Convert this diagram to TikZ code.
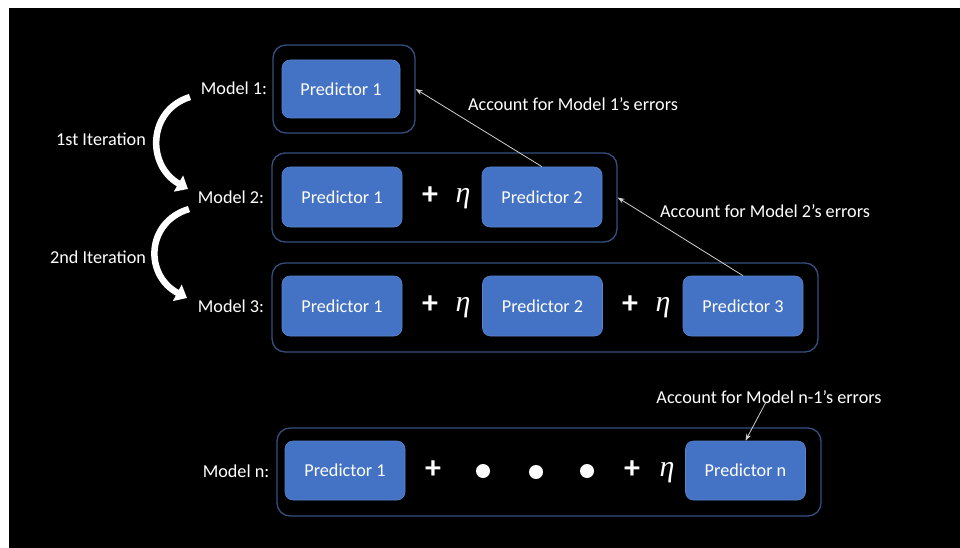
\documentclass[tikz,border=0pt]{standalone}
\usepackage{fontspec}
\setmainfont{Carlito}
\newfontfamily\etaserif{Liberation Serif}
\usetikzlibrary{arrows.meta}
\definecolor{predblue}{HTML}{4472C4}
\definecolor{prededge}{HTML}{5A84CC}
\definecolor{frameblue}{HTML}{33507F}
\definecolor{linkgray}{HTML}{D0D0D0}
\newcommand{\lblfont}{\fontsize{18.2}{21}\selectfont}
\newcommand{\opfont}{\fontsize{32}{34}\selectfont\bfseries}
\newcommand{\etafont}{\etaserif\itshape\fontsize{30}{32}\selectfont}
\tikzset{
  predbox/.style={fill=predblue, draw=prededge, line width=0.6pt, rounded corners=8pt,
    minimum width=120pt, minimum height=60pt, inner sep=0pt, text=white, font=\lblfont},
  modelframe/.style={draw=frameblue, line width=1.3pt, rounded corners=13pt,
    minimum height=88pt, inner sep=0pt},
  modellbl/.style={text=white, font=\lblfont, inner sep=0pt},
  optxt/.style={text=white, font=\opfont, inner sep=0pt},
  etatxt/.style={text=white, font=\etafont, inner sep=0pt},
  notetxt/.style={text=white, font=\lblfont, inner sep=0pt},
  errlink/.style={draw=linkgray, line width=0.8pt, -{Stealth[length=7pt,width=5pt]}},
  iterarrow/.style={draw=white, line width=6.5pt, -{Triangle[length=11pt,width=18pt]}},
  dotmark/.style={circle, fill=white, minimum size=14pt, inner sep=0pt},
}
\begin{document}
\begin{tikzpicture}[x=1pt,y=-1pt]
  % page and dark panel
  \fill[white] (0,0) rectangle (960,548);
  \fill[black] (9,8) rectangle (960,548);
  \useasboundingbox (0,0) rectangle (960,548);

  % outer frames of the four models
  \node[modelframe, minimum width=142pt] (m1) at (344,89) {};
  \node[modelframe, minimum width=345pt, minimum height=89pt] (m2) at (444.5,197.5) {};
  \node[modelframe, minimum width=546pt, minimum height=89pt] (m3) at (545,307.5) {};
  \node[modelframe, minimum width=544pt] (mn) at (549,472) {};

  % model labels
  \node[modellbl] (l1) at (234,88) {Model 1:};
  \node[modellbl] (l2) at (231,197) {Model 2:};
  \node[modellbl] (l3) at (231,306) {Model 3:};
  \node[modellbl] (ln) at (236,471) {Model n:};

  % model 1
  \node[predbox, minimum width=118pt, minimum height=58pt] (p11) at (341,89) {Predictor 1};

  % model 2
  \node[predbox] (p21) at (342,197) {Predictor 1};
  \node[optxt] (o21) at (430,196) {+};
  \node[etatxt] (e21) at (463,199) {η};
  \node[predbox] (p22) at (542,197) {Predictor 2};

  % model 3
  \node[predbox] (p31) at (342,306) {Predictor 1};
  \node[optxt] (o31) at (430,305) {+};
  \node[etatxt] (e31) at (463,308) {η};
  \node[predbox] (p32) at (542.5,306) {Predictor 2};
  \node[optxt] (o32) at (630,305) {+};
  \node[etatxt] (e32) at (663,308) {η};
  \node[predbox] (p33) at (743,306) {Predictor 3};

  % model n
  \node[predbox, minimum height=59pt] (pn1) at (345,470.5) {Predictor 1};
  \node[optxt] (on1) at (433,470) {+};
  \node[dotmark] (d1) at (483,471) {};
  \node[dotmark] (d2) at (536,472) {};
  \node[dotmark] (d3) at (587,471) {};
  \node[optxt] (on2) at (632,470) {+};
  \node[etatxt] (en) at (667,473) {η};
  \node[predbox, minimum height=59pt] (pnn) at (745.5,470.5) {Predictor n};

  % error notes
  \node[notetxt] (n1) at (573,104) {Account for Model 1’s errors};
  \node[notetxt] (n2) at (765,211) {Account for Model 2’s errors};
  \node[notetxt] (nn) at (769,397) {Account for Model n-1’s errors};
  \coordinate (nnfoot) at (766,402);

  % links to the previous model
  \draw[errlink] (p22.north) -- (m1.east);
  \draw[errlink] (p33.north) -- (m2.east);
  \draw[errlink] (nnfoot) -- (pnn.north);

  % iteration labels and curved arrows
  \node[modellbl] (it1) at (101,139) {1st Iteration};
  \node[modellbl] (it2) at (98,257) {2nd Iteration};
  \coordinate (a1s) at (190,97);
  \coordinate (a1e) at (188,189);
  \coordinate (a2s) at (189,209);
  \coordinate (a2e) at (187,298);
  \draw[iterarrow] (a1s) .. controls (148,110) and (146,165) .. (a1e);
  \draw[iterarrow] (a2s) .. controls (146,222) and (144,275) .. (a2e);
\end{tikzpicture}
\end{document}
